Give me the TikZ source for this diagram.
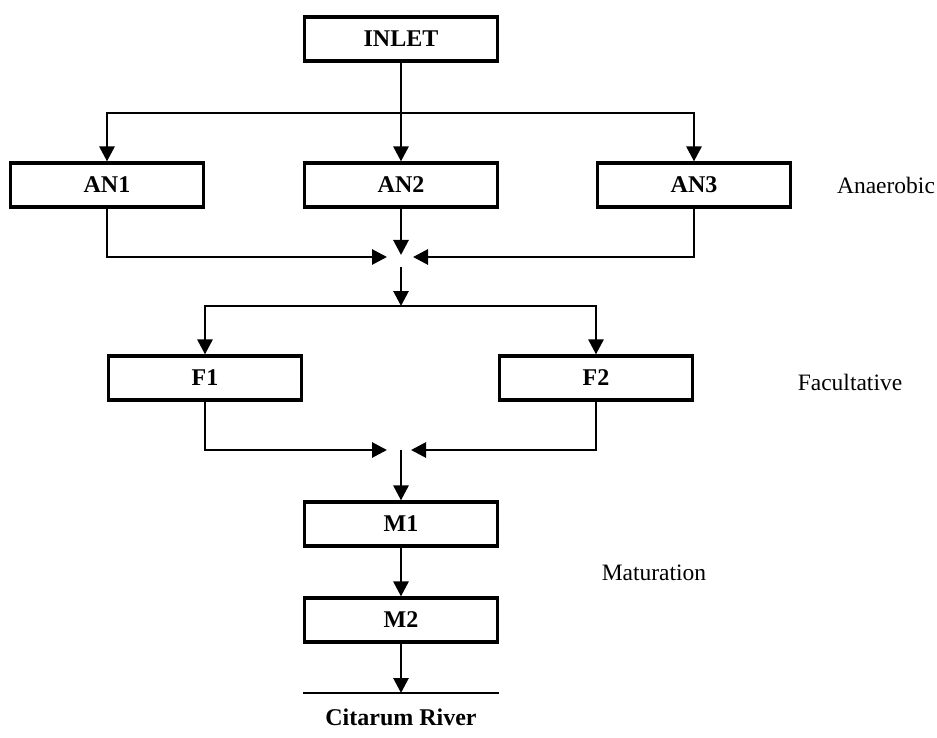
\documentclass[tikz,border=0pt]{standalone}
\usepackage{fontspec}
\setmainfont{Liberation Serif}
\usetikzlibrary{arrows.meta}
\begin{document}
\begin{tikzpicture}[x=1pt,y=-1pt,
  pond/.style={draw, line width=3.2pt, minimum width=193pt, minimum height=44pt,
    inner sep=0pt, font=\fontsize{24}{26}\selectfont\bfseries},
  stage/.style={font=\fontsize{23.5}{26}\selectfont, inner sep=0pt},
  wire/.style={line width=2.8pt, line join=miter},
  flow/.style={wire, -{Triangle[length=15pt,width=15pt]}}]
\useasboundingbox (0,0) rectangle (937,738);

% treatment ponds
\node[pond] (inlet) at (401,39)  {INLET};
\node[pond] (an1)   at (107,185) {AN1};
\node[pond] (an2)   at (401,185) {AN2};
\node[pond] (an3)   at (694,185) {AN3};
\node[pond] (f1)    at (205,378) {F1};
\node[pond] (f2)    at (596,378) {F2};
\node[pond] (m1)    at (401,524) {M1};
\node[pond] (m2)    at (401,620) {M2};

% stage labels
\node[stage] (lan)  at (886,185) {Anaerobic};
\node[stage] (lfac) at (850,382) {Facultative};
\node[stage] (lmat) at (654,573) {Maturation};

% junction points
\coordinate (b1c) at (401,113);
\coordinate (j1t) at (401,255);
\coordinate (j1l) at (387,257);
\coordinate (j1r) at (413,257);
\coordinate (j1b) at (401,267);
\coordinate (b2c) at (401,306);
\coordinate (j2l) at (387,450);
\coordinate (j2r) at (411,450);
\coordinate (j2b) at (401,450);
\coordinate (rv)  at (401,693);
\coordinate (rvl) at (303,693);
\coordinate (rvr) at (499,693);

% inlet split to anaerobic ponds
\draw[wire] (inlet.south) -- (b1c);
\draw[flow] (b1c) -| (an1.north);
\draw[flow] (b1c) -| (an3.north);
\draw[flow] (b1c) -- (an2.north);

% anaerobic outflows merge
\draw[flow] (an1.south) |- (j1l);
\draw[flow] (an3.south) |- (j1r);
\draw[flow] (an2.south) -- (j1t);
\draw[flow] (j1b) -- (b2c);

% split to facultative ponds
\draw[wire] (f1.north |- b2c) -- (f2.north |- b2c);
\draw[flow] (b2c) -| (f1.north);
\draw[flow] (b2c) -| (f2.north);

% facultative outflows merge
\draw[flow] (f1.south) |- (j2l);
\draw[flow] (f2.south) |- (j2r);
\draw[flow] (j2b) -- (m1.north);

% maturation ponds to river
\draw[flow] (m1.south) -- (m2.north);
\draw[flow] (m2.south) -- (rv);
\draw[wire] (rvl) -- (rvr);
\node[font=\fontsize{24}{26}\selectfont\bfseries, inner sep=0pt] (river) at (401,717) {Citarum River};
\end{tikzpicture}
\end{document}
